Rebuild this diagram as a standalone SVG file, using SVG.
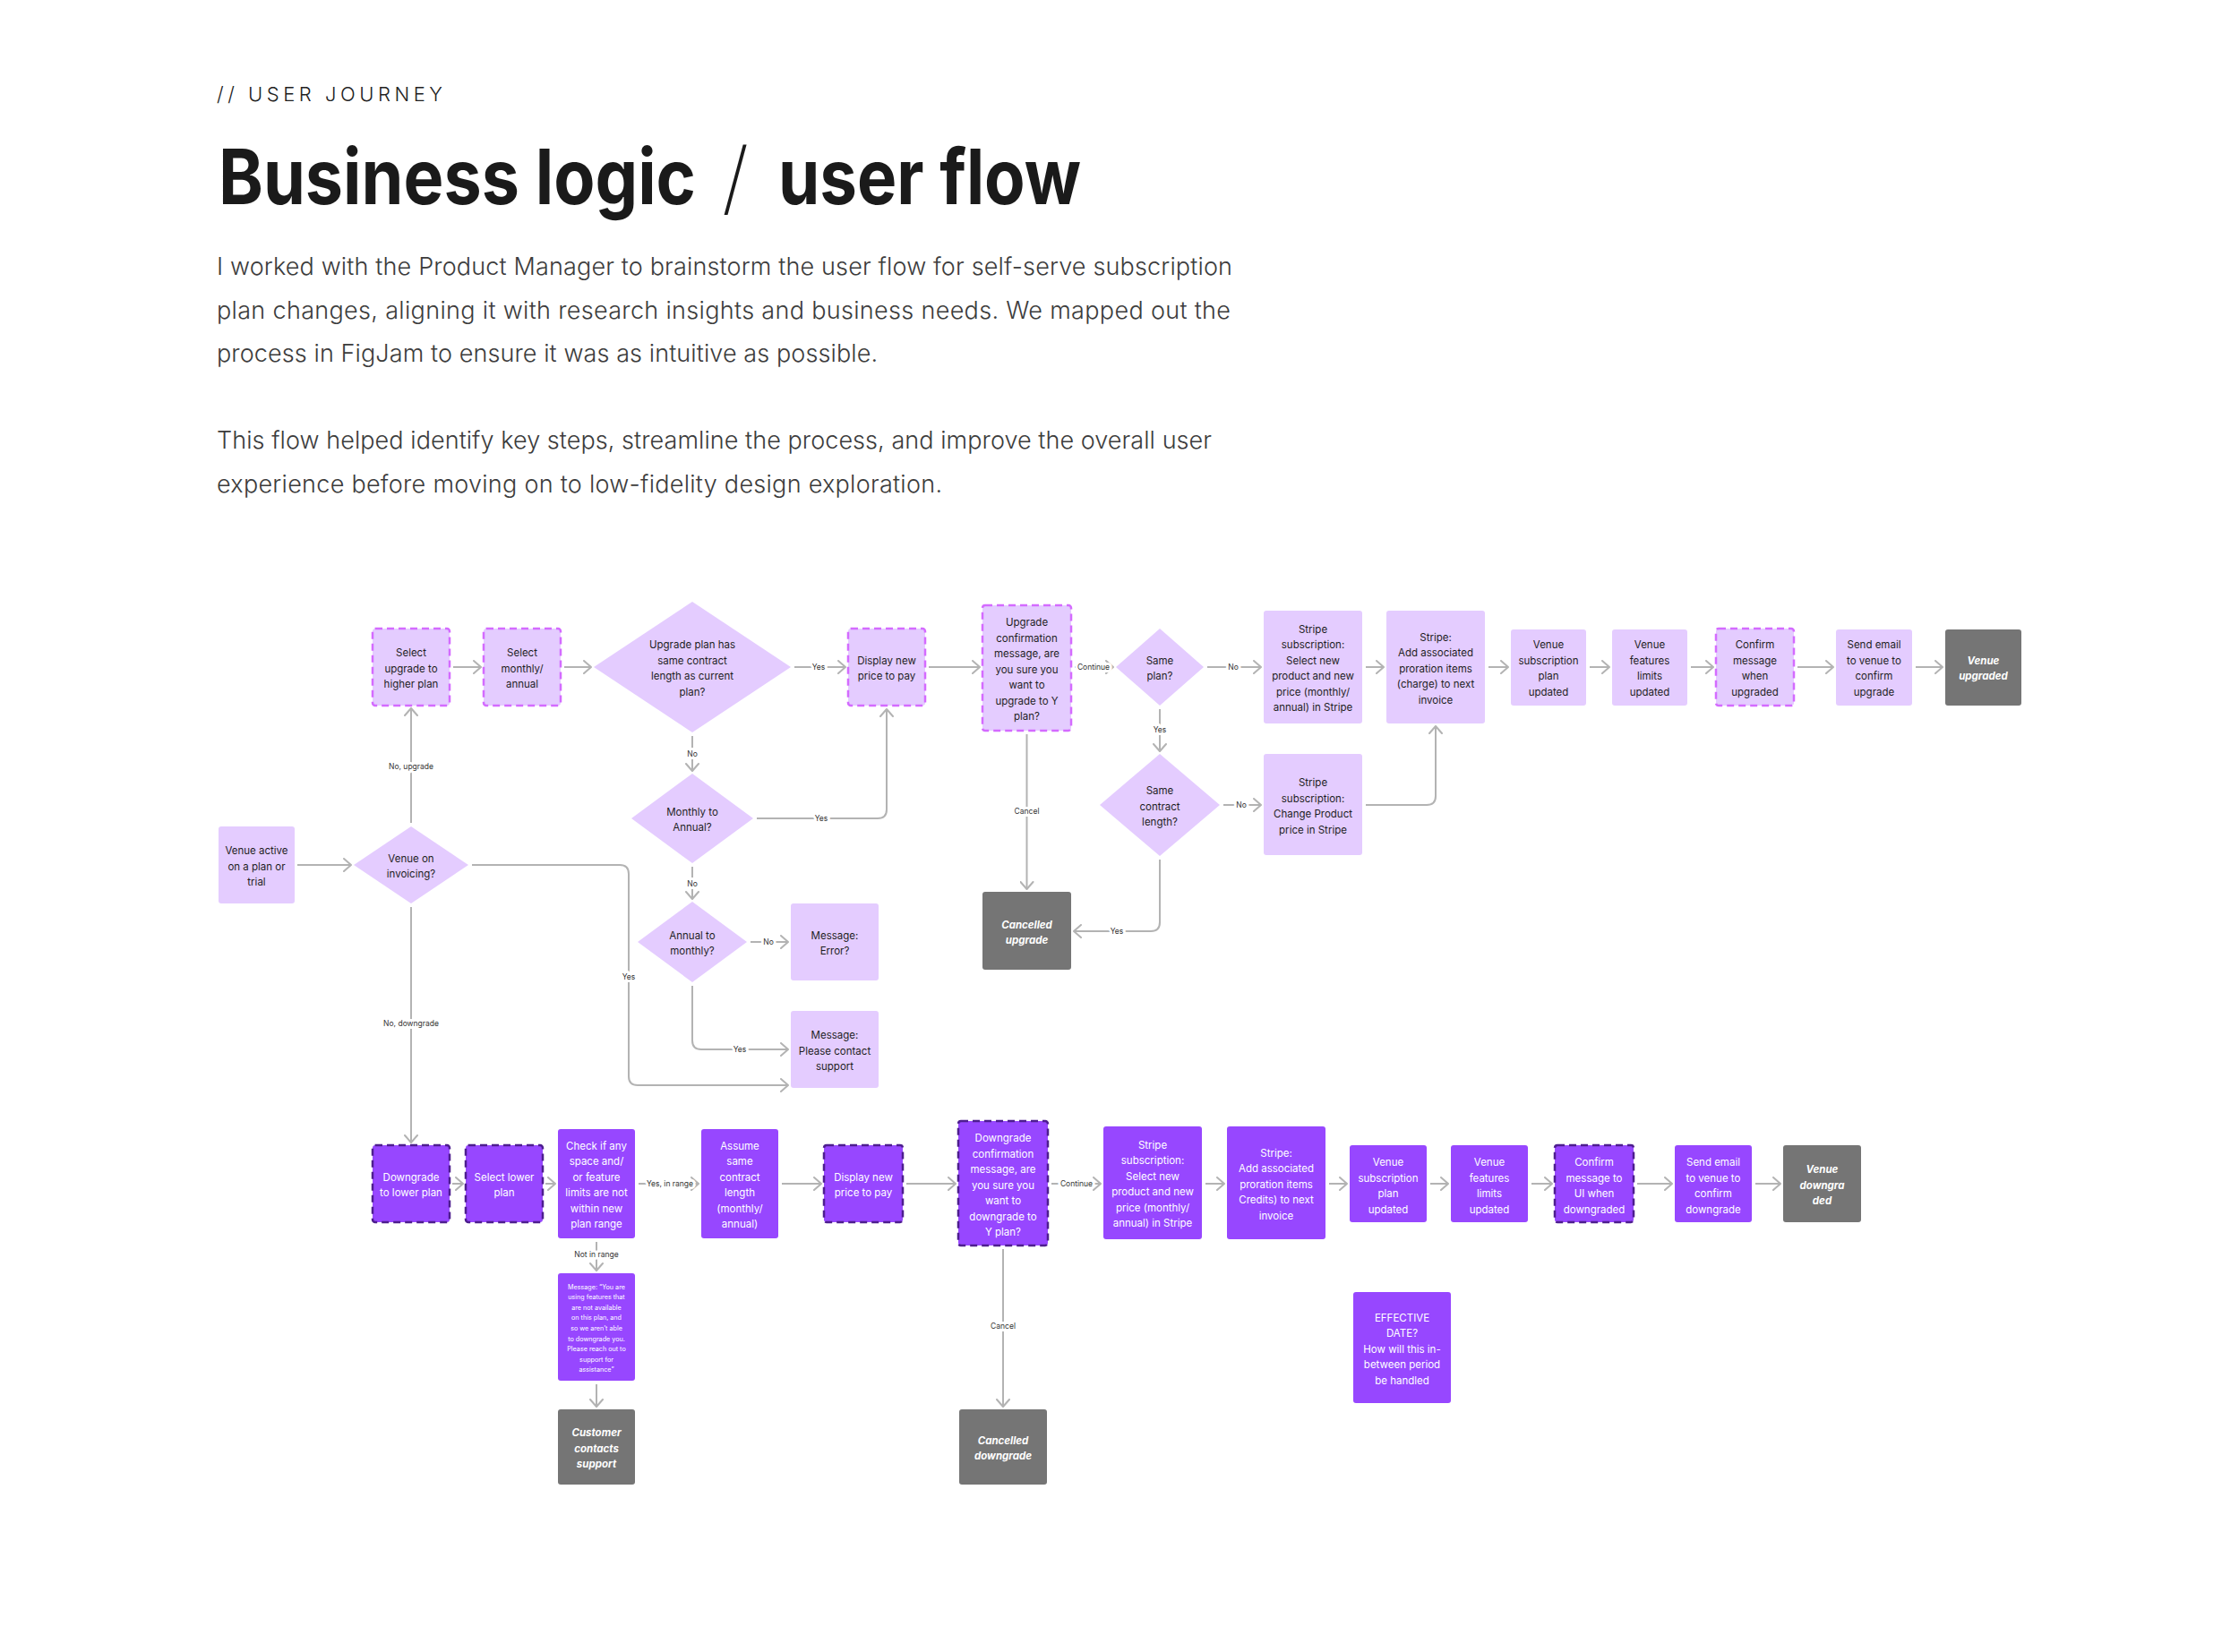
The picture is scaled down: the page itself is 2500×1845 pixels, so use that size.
<svg xmlns="http://www.w3.org/2000/svg" width="2500" height="1845" viewBox="0 0 2500 1845">
<style>
.lt{fill:#E4CCFF}
.ltd{fill:#E4CCFF;stroke:#D46BFF;stroke-width:2.5;stroke-dasharray:8 5}
.dk{fill:#9747FF}
.dkd{fill:#9747FF;stroke:#4E1E8F;stroke-width:2.5;stroke-dasharray:8 5}
.gr{fill:#757575}
.t{font-family:Inter,"Liberation Sans",sans-serif;font-size:11.5px;fill:#1E1E1E;text-anchor:middle;transform:translateY(1.5px)}
.w{fill:#FFFFFF}
.bi{fill:#FFFFFF;font-weight:700;font-style:italic}
.sm{font-size:7.2px}
.cn{fill:none;stroke:#B3B3B3;stroke-width:2;marker-end:url(#arr)}
.lbl{font-family:Inter,"Liberation Sans",sans-serif;font-size:8.5px;fill:#333333;text-anchor:middle;stroke:#FFFFFF;stroke-width:6px;paint-order:stroke;stroke-linejoin:round}
.hd{font-family:Inter,"Liberation Sans",sans-serif}
</style>
<defs>
<marker id="arr" viewBox="0 0 10 16" refX="9" refY="8" markerWidth="10" markerHeight="16" markerUnits="userSpaceOnUse" orient="auto">
<path d="M1,1 L9,8 L1,15" fill="none" stroke="#B3B3B3" stroke-width="2" stroke-linecap="round" stroke-linejoin="round"/>
</marker>
</defs>
<rect width="2500" height="1845" fill="#FFFFFF"/>

<g id="header">
<text class="hd" x="242" y="113" font-size="22" font-weight="300" fill="#222222" textLength="252" lengthAdjust="spacing">// USER JOURNEY</text>
<g transform="matrix(1,0,0,1.13,0,-29.64)">
<text class="hd" x="244" y="228" font-size="76" font-weight="700" fill="#1A1A1A" textLength="533" lengthAdjust="spacingAndGlyphs">Business logic</text>
<text class="hd" x="869" y="228" font-size="76" font-weight="700" fill="#1A1A1A" textLength="338" lengthAdjust="spacingAndGlyphs">user flow</text>
</g>
<text class="hd" x="806" y="230" font-size="90" font-weight="200" fill="#1A1A1A">/</text>
<g class="hd" font-size="27" font-weight="300" fill="#3C3C3C">
<text x="242" y="307" textLength="1134" lengthAdjust="spacing">I worked with the Product Manager to brainstorm the user flow for self-serve subscription</text>
<text x="242" y="356" textLength="1132" lengthAdjust="spacing">plan changes, aligning it with research insights and business needs. We mapped out the</text>
<text x="242" y="404" textLength="738" lengthAdjust="spacing">process in FigJam to ensure it was as intuitive as possible.</text>
<text x="242" y="501" textLength="1111" lengthAdjust="spacing">This flow helped identify key steps, streamline the process, and improve the overall user</text>
<text x="242" y="550" textLength="810" lengthAdjust="spacing">experience before moving on to low-fidelity design exploration.</text>
</g>
</g>

<g id="connectors">
<path class="cn" d="M506,745 H537"/>
<path class="cn" d="M630,745 H660"/>
<path class="cn" d="M887,745 H944"/>
<path class="cn" d="M1037,745 H1094"/>
<path class="cn" d="M1200,745 H1243"/>
<path class="cn" d="M1348,745 H1408"/>
<path class="cn" d="M1525,745 H1545"/>
<path class="cn" d="M1662,745 H1684"/>
<path class="cn" d="M1775,745 H1797"/>
<path class="cn" d="M1888,745 H1913"/>
<path class="cn" d="M2007,745 H2047"/>
<path class="cn" d="M2139,745 H2169"/>
<path class="cn" d="M773,822 V861"/>
<path class="cn" d="M773,968 V1004"/>
<path class="cn" d="M845,914 H980 Q990,914 990,904 V792"/>
<path class="cn" d="M838,1052 H880"/>
<path class="cn" d="M773,1101 V1162 Q773,1172 783,1172 H880"/>
<path class="cn" d="M1146.5,820 V993"/>
<path class="cn" d="M1295,792 V839"/>
<path class="cn" d="M1366,899 H1408"/>
<path class="cn" d="M1295,960 V1030 Q1295,1040 1285,1040 H1199"/>
<path class="cn" d="M1525,899 H1593 Q1603,899 1603,889 V811"/>
<path class="cn" d="M332,966 H392"/>
<path class="cn" d="M459,919 V791"/>
<path class="cn" d="M459,1013 V1276"/>
<path class="cn" d="M527,966 H692 Q702,966 702,976 V1202 Q702,1212 712,1212 H880"/>
<path class="cn" d="M505,1322 H517"/>
<path class="cn" d="M609,1322 H620"/>
<path class="cn" d="M713,1322 H780"/>
<path class="cn" d="M873,1322 H917"/>
<path class="cn" d="M1012,1322 H1067"/>
<path class="cn" d="M1174,1322 H1229"/>
<path class="cn" d="M1346,1322 H1367"/>
<path class="cn" d="M1484,1322 H1504"/>
<path class="cn" d="M1597,1322 H1617"/>
<path class="cn" d="M1710,1322 H1733"/>
<path class="cn" d="M1828,1322 H1867"/>
<path class="cn" d="M1960,1322 H1988"/>
<path class="cn" d="M666,1387 V1419"/>
<path class="cn" d="M666,1546 V1571"/>
<path class="cn" d="M1120,1395 V1571"/>
<text class="lbl" x="914" y="748">Yes</text>
<text class="lbl" x="1221" y="748">Continue</text>
<text class="lbl" x="1377" y="748">No</text>
<text class="lbl" x="773" y="845">No</text>
<text class="lbl" x="917" y="917">Yes</text>
<text class="lbl" x="773" y="990">No</text>
<text class="lbl" x="858" y="1055">No</text>
<text class="lbl" x="826" y="1175">Yes</text>
<text class="lbl" x="1146.5" y="909">Cancel</text>
<text class="lbl" x="1295" y="818">Yes</text>
<text class="lbl" x="1386" y="902">No</text>
<text class="lbl" x="1247" y="1043">Yes</text>
<text class="lbl" x="459" y="859">No, upgrade</text>
<text class="lbl" x="459" y="1146">No, downgrade</text>
<text class="lbl" x="702" y="1094">Yes</text>
<text class="lbl" x="748" y="1325">Yes, in range</text>
<text class="lbl" x="1202" y="1325">Continue</text>
<text class="lbl" x="666" y="1404">Not in range</text>
<text class="lbl" x="1120" y="1484">Cancel</text>
</g>

<g id="n-select-upgrade"><rect class="ltd" x="416" y="702" width="86" height="86" rx="3"/>
<text class="t" y="731.5"><tspan x="459">Select</tspan><tspan x="459" dy="17.5">upgrade to</tspan><tspan x="459" dy="17.5">higher plan</tspan></text></g>
<g id="n-select-monthly"><rect class="ltd" x="540" y="702" width="86" height="86" rx="3"/>
<text class="t" y="731.5"><tspan x="583">Select</tspan><tspan x="583" dy="17.5">monthly/</tspan><tspan x="583" dy="17.5">annual</tspan></text></g>
<g id="n-same-length"><polygon class="lt" points="773,672 883,745 773,818 663,745"/>
<text class="t" y="722.75"><tspan x="773">Upgrade plan has</tspan><tspan x="773" dy="17.5">same contract</tspan><tspan x="773" dy="17.5">length as current</tspan><tspan x="773" dy="17.5">plan?</tspan></text></g>
<g id="n-display-up"><rect class="ltd" x="947" y="702" width="86" height="86" rx="3"/>
<text class="t" y="740.25"><tspan x="990">Display new</tspan><tspan x="990" dy="17.5">price to pay</tspan></text></g>
<g id="n-upgrade-confirm"><rect class="ltd" x="1097" y="676" width="99" height="140" rx="3"/>
<text class="t" y="697.5"><tspan x="1146.5">Upgrade</tspan><tspan x="1146.5" dy="17.5">confirmation</tspan><tspan x="1146.5" dy="17.5">message, are</tspan><tspan x="1146.5" dy="17.5">you sure you</tspan><tspan x="1146.5" dy="17.5">want to</tspan><tspan x="1146.5" dy="17.5">upgrade to Y</tspan><tspan x="1146.5" dy="17.5">plan?</tspan></text></g>
<g id="n-same-plan"><polygon class="lt" points="1295,702 1344,745 1295,788 1246,745"/>
<text class="t" y="740.25"><tspan x="1295">Same</tspan><tspan x="1295" dy="17.5">plan?</tspan></text></g>
<g id="n-stripe-select-up"><rect class="lt" x="1411" y="682" width="110" height="126" rx="3"/>
<text class="t" y="705.25"><tspan x="1466">Stripe</tspan><tspan x="1466" dy="17.5">subscription:</tspan><tspan x="1466" dy="17.5">Select new</tspan><tspan x="1466" dy="17.5">product and new</tspan><tspan x="1466" dy="17.5">price (monthly/</tspan><tspan x="1466" dy="17.5">annual) in Stripe</tspan></text></g>
<g id="n-stripe-add-up"><rect class="lt" x="1548" y="682" width="110" height="126" rx="3"/>
<text class="t" y="714"><tspan x="1603">Stripe:</tspan><tspan x="1603" dy="17.5">Add associated</tspan><tspan x="1603" dy="17.5">proration items</tspan><tspan x="1603" dy="17.5">(charge) to next</tspan><tspan x="1603" dy="17.5">invoice</tspan></text></g>
<g id="n-venue-sub-up"><rect class="lt" x="1687" y="703" width="84" height="85" rx="3"/>
<text class="t" y="722.75"><tspan x="1729">Venue</tspan><tspan x="1729" dy="17.5">subscription</tspan><tspan x="1729" dy="17.5">plan</tspan><tspan x="1729" dy="17.5">updated</tspan></text></g>
<g id="n-venue-feat-up"><rect class="lt" x="1800" y="703" width="84" height="85" rx="3"/>
<text class="t" y="722.75"><tspan x="1842">Venue</tspan><tspan x="1842" dy="17.5">features</tspan><tspan x="1842" dy="17.5">limits</tspan><tspan x="1842" dy="17.5">updated</tspan></text></g>
<g id="n-confirm-up"><rect class="ltd" x="1916" y="702" width="87" height="86" rx="3"/>
<text class="t" y="722.75"><tspan x="1959.5">Confirm</tspan><tspan x="1959.5" dy="17.5">message</tspan><tspan x="1959.5" dy="17.5">when</tspan><tspan x="1959.5" dy="17.5">upgraded</tspan></text></g>
<g id="n-email-up"><rect class="lt" x="2050" y="703" width="85" height="85" rx="3"/>
<text class="t" y="722.75"><tspan x="2092.5">Send email</tspan><tspan x="2092.5" dy="17.5">to venue to</tspan><tspan x="2092.5" dy="17.5">confirm</tspan><tspan x="2092.5" dy="17.5">upgrade</tspan></text></g>
<g id="n-venue-upgraded"><rect class="gr" x="2172" y="703" width="85" height="85" rx="3"/>
<text class="t bi" y="740.25"><tspan x="2214.5">Venue</tspan><tspan x="2214.5" dy="17.5">upgraded</tspan></text></g>

<g id="n-monthly-annual"><polygon class="lt" points="773,864 841,914 773,964 705,914"/>
<text class="t" y="909.25"><tspan x="773">Monthly to</tspan><tspan x="773" dy="17.5">Annual?</tspan></text></g>
<g id="n-same-contract"><polygon class="lt" points="1295,842 1362,899 1295,956 1228,899"/>
<text class="t" y="885.5"><tspan x="1295">Same</tspan><tspan x="1295" dy="17.5">contract</tspan><tspan x="1295" dy="17.5">length?</tspan></text></g>
<g id="n-stripe-change"><rect class="lt" x="1411" y="842" width="110" height="113" rx="3"/>
<text class="t" y="876.75"><tspan x="1466">Stripe</tspan><tspan x="1466" dy="17.5">subscription:</tspan><tspan x="1466" dy="17.5">Change Product</tspan><tspan x="1466" dy="17.5">price in Stripe</tspan></text></g>
<g id="n-venue-active"><rect class="lt" x="244" y="923" width="85" height="86" rx="3"/>
<text class="t" y="952.5"><tspan x="286.5">Venue active</tspan><tspan x="286.5" dy="17.5">on a plan or</tspan><tspan x="286.5" dy="17.5">trial</tspan></text></g>
<g id="n-invoicing"><polygon class="lt" points="459,923 523,966 459,1009 395,966"/>
<text class="t" y="961.25"><tspan x="459">Venue on</tspan><tspan x="459" dy="17.5">invoicing?</tspan></text></g>
<g id="n-annual-monthly"><polygon class="lt" points="773,1007 834,1052 773,1097 712,1052"/>
<text class="t" y="1047.25"><tspan x="773">Annual to</tspan><tspan x="773" dy="17.5">monthly?</tspan></text></g>
<g id="n-msg-error"><rect class="lt" x="883" y="1009" width="98" height="86" rx="3"/>
<text class="t" y="1047.25"><tspan x="932">Message:</tspan><tspan x="932" dy="17.5">Error?</tspan></text></g>
<g id="n-msg-contact"><rect class="lt" x="883" y="1129" width="98" height="86" rx="3"/>
<text class="t" y="1158.5"><tspan x="932">Message:</tspan><tspan x="932" dy="17.5">Please contact</tspan><tspan x="932" dy="17.5">support</tspan></text></g>
<g id="n-cancelled-up"><rect class="gr" x="1097" y="996" width="99" height="87" rx="3"/>
<text class="t bi" y="1035.25"><tspan x="1146.5">Cancelled</tspan><tspan x="1146.5" dy="17.5">upgrade</tspan></text></g>

<g id="n-downgrade"><rect class="dkd" x="416" y="1279" width="86" height="86" rx="3"/>
<text class="t w" y="1317.25"><tspan x="459">Downgrade</tspan><tspan x="459" dy="17.5">to lower plan</tspan></text></g>
<g id="n-select-lower"><rect class="dkd" x="520" y="1279" width="86" height="86" rx="3"/>
<text class="t w" y="1317.25"><tspan x="563">Select lower</tspan><tspan x="563" dy="17.5">plan</tspan></text></g>
<g id="n-check-limits"><rect class="dk" x="623" y="1261" width="86" height="122" rx="3"/>
<text class="t w" y="1282.25"><tspan x="666">Check if any</tspan><tspan x="666" dy="17.5">space and/</tspan><tspan x="666" dy="17.5">or feature</tspan><tspan x="666" dy="17.5">limits are not</tspan><tspan x="666" dy="17.5">within new</tspan><tspan x="666" dy="17.5">plan range</tspan></text></g>
<g id="n-assume"><rect class="dk" x="783" y="1261" width="86" height="122" rx="3"/>
<text class="t w" y="1282.25"><tspan x="826">Assume</tspan><tspan x="826" dy="17.5">same</tspan><tspan x="826" dy="17.5">contract</tspan><tspan x="826" dy="17.5">length</tspan><tspan x="826" dy="17.5">(monthly/</tspan><tspan x="826" dy="17.5">annual)</tspan></text></g>
<g id="n-display-down"><rect class="dkd" x="920" y="1279" width="88" height="86" rx="3"/>
<text class="t w" y="1317.25"><tspan x="964">Display new</tspan><tspan x="964" dy="17.5">price to pay</tspan></text></g>
<g id="n-downgrade-confirm"><rect class="dkd" x="1070" y="1252" width="100" height="139" rx="3"/>
<text class="t w" y="1273.5"><tspan x="1120">Downgrade</tspan><tspan x="1120" dy="17.5">confirmation</tspan><tspan x="1120" dy="17.5">message, are</tspan><tspan x="1120" dy="17.5">you sure you</tspan><tspan x="1120" dy="17.5">want to</tspan><tspan x="1120" dy="17.5">downgrade to</tspan><tspan x="1120" dy="17.5">Y plan?</tspan></text></g>
<g id="n-stripe-select-down"><rect class="dk" x="1232" y="1258" width="110" height="126" rx="3"/>
<text class="t w" y="1281.25"><tspan x="1287">Stripe</tspan><tspan x="1287" dy="17.5">subscription:</tspan><tspan x="1287" dy="17.5">Select new</tspan><tspan x="1287" dy="17.5">product and new</tspan><tspan x="1287" dy="17.5">price (monthly/</tspan><tspan x="1287" dy="17.5">annual) in Stripe</tspan></text></g>
<g id="n-stripe-add-down"><rect class="dk" x="1370" y="1258" width="110" height="126" rx="3"/>
<text class="t w" y="1290"><tspan x="1425">Stripe:</tspan><tspan x="1425" dy="17.5">Add associated</tspan><tspan x="1425" dy="17.5">proration items</tspan><tspan x="1425" dy="17.5">Credits) to next</tspan><tspan x="1425" dy="17.5">invoice</tspan></text></g>
<g id="n-venue-sub-down"><rect class="dk" x="1507" y="1279" width="86" height="86" rx="3"/>
<text class="t w" y="1300.75"><tspan x="1550">Venue</tspan><tspan x="1550" dy="17.5">subscription</tspan><tspan x="1550" dy="17.5">plan</tspan><tspan x="1550" dy="17.5">updated</tspan></text></g>
<g id="n-venue-feat-down"><rect class="dk" x="1620" y="1279" width="86" height="86" rx="3"/>
<text class="t w" y="1300.75"><tspan x="1663">Venue</tspan><tspan x="1663" dy="17.5">features</tspan><tspan x="1663" dy="17.5">limits</tspan><tspan x="1663" dy="17.5">updated</tspan></text></g>
<g id="n-confirm-down"><rect class="dkd" x="1736" y="1279" width="88" height="86" rx="3"/>
<text class="t w" y="1300.75"><tspan x="1780">Confirm</tspan><tspan x="1780" dy="17.5">message to</tspan><tspan x="1780" dy="17.5">UI when</tspan><tspan x="1780" dy="17.5">downgraded</tspan></text></g>
<g id="n-email-down"><rect class="dk" x="1870" y="1279" width="86" height="86" rx="3"/>
<text class="t w" y="1300.75"><tspan x="1913">Send email</tspan><tspan x="1913" dy="17.5">to venue to</tspan><tspan x="1913" dy="17.5">confirm</tspan><tspan x="1913" dy="17.5">downgrade</tspan></text></g>
<g id="n-venue-downgraded"><rect class="gr" x="1991" y="1279" width="87" height="86" rx="3"/>
<text class="t bi" y="1308.5"><tspan x="2034.5">Venue</tspan><tspan x="2034.5" dy="17.5">downgra</tspan><tspan x="2034.5" dy="17.5">ded</tspan></text></g>
<g id="n-msg-not-available"><rect class="dk" x="623" y="1422" width="86" height="120" rx="3"/>
<text class="t w sm" y="1438.1"><tspan x="666">Message: “You are</tspan><tspan x="666" dy="11.6">using features that</tspan><tspan x="666" dy="11.6">are not available</tspan><tspan x="666" dy="11.6">on this plan, and</tspan><tspan x="666" dy="11.6">so we aren’t able</tspan><tspan x="666" dy="11.6">to downgrade you.</tspan><tspan x="666" dy="11.6">Please reach out to</tspan><tspan x="666" dy="11.6">support for</tspan><tspan x="666" dy="11.6">assistance”</tspan></text></g>
<g id="n-customer-contacts"><rect class="gr" x="623" y="1574" width="86" height="84" rx="3"/>
<text class="t bi" y="1602.5"><tspan x="666">Customer</tspan><tspan x="666" dy="17.5">contacts</tspan><tspan x="666" dy="17.5">support</tspan></text></g>
<g id="n-cancelled-down"><rect class="gr" x="1071" y="1574" width="98" height="84" rx="3"/>
<text class="t bi" y="1611.25"><tspan x="1120">Cancelled</tspan><tspan x="1120" dy="17.5">downgrade</tspan></text></g>
<g id="n-effective-date"><rect class="dk" x="1511" y="1443" width="109" height="124" rx="3"/>
<text class="t w" y="1474"><tspan x="1565.5">EFFECTIVE</tspan><tspan x="1565.5" dy="17.5">DATE?</tspan><tspan x="1565.5" dy="17.5">How will this in-</tspan><tspan x="1565.5" dy="17.5">between period</tspan><tspan x="1565.5" dy="17.5">be handled</tspan></text></g>
</svg>
